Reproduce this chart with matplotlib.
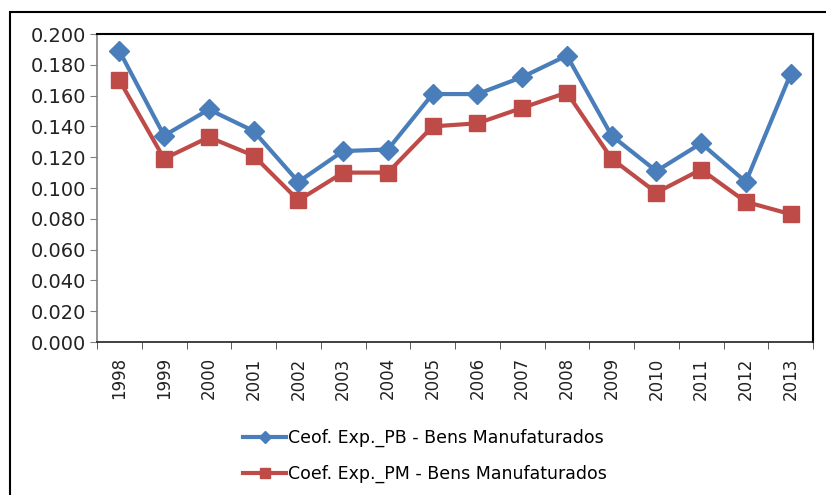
import matplotlib.pyplot as plt
from matplotlib.patches import Rectangle

anos = ["1998", "1999", "2000", "2001", "2002", "2003", "2004", "2005",
        "2006", "2007", "2008", "2009", "2010", "2011", "2012", "2013"]
coef_pb = [0.189, 0.134, 0.151, 0.137, 0.104, 0.124, 0.125, 0.161,
           0.161, 0.172, 0.186, 0.134, 0.111, 0.129, 0.104, 0.174]
coef_pm = [0.170, 0.119, 0.133, 0.121, 0.092, 0.110, 0.110, 0.140,
           0.142, 0.152, 0.162, 0.119, 0.097, 0.112, 0.091, 0.083]
yticks = [0.0, 0.02, 0.04, 0.06, 0.08, 0.10, 0.12, 0.14, 0.16, 0.18, 0.20]

plt.rcParams['font.family'] = ['DejaVu Sans']

fig = plt.figure(figsize=(8.26, 4.95), dpi=100)
W, H = 826, 495
ax = fig.add_axes([97 / W, 1 - 342 / H, (813 - 97) / W, (342 - 34) / H])

# outer chart frame
fig.patches.append(Rectangle((10 / W, -0.01), 1.0, 1 - 12 / H + 0.01,
                             transform=fig.transFigure, fill=False,
                             edgecolor="black", linewidth=1.5))

x = list(range(len(anos)))
ax.plot(x, coef_pb, color="#4A7EBB", linewidth=3, marker="D", markersize=10,
        label="Ceof. Exp._PB - Bens Manufaturados")
ax.plot(x, coef_pm, color="#BE4B48", linewidth=3, marker="s", markersize=12,
        label="Coef. Exp._PM - Bens Manufaturados")

ax.set_xlim(-0.5, len(anos) - 0.5)
ax.set_ylim(0, 0.2)
ax.set_yticks(yticks)
ax.set_yticklabels(["%.3f" % v for v in yticks], fontsize=14, color="#222222")
ax.set_xticks(x)
ax.set_xticklabels(anos, rotation=90, fontsize=12, color="#222222")
ax.tick_params(axis="x", length=0, pad=11)
ax.set_xticks([i - 0.5 for i in range(len(anos) + 1)], minor=True)
ax.tick_params(axis="x", which="minor", length=5, color="#404040")
ax.tick_params(axis="y", length=5, color="#808080", pad=3)

ax.spines["left"].set_color("#808080")
ax.spines["left"].set_linewidth(1.2)
ax.spines["bottom"].set_color("#202020")
ax.spines["bottom"].set_linewidth(1.2)
for s in ["top", "right"]:
    ax.spines[s].set_color("black")
    ax.spines[s].set_linewidth(1.5)

fig.legend(loc="center", bbox_to_anchor=(425 / W, 1 - 456 / H), ncol=1,
           frameon=False, fontsize=12.5, handlelength=2.5, handletextpad=0.1,
           labelspacing=1.0, markerscale=0.6)

fig.savefig("out.png", dpi=100)
